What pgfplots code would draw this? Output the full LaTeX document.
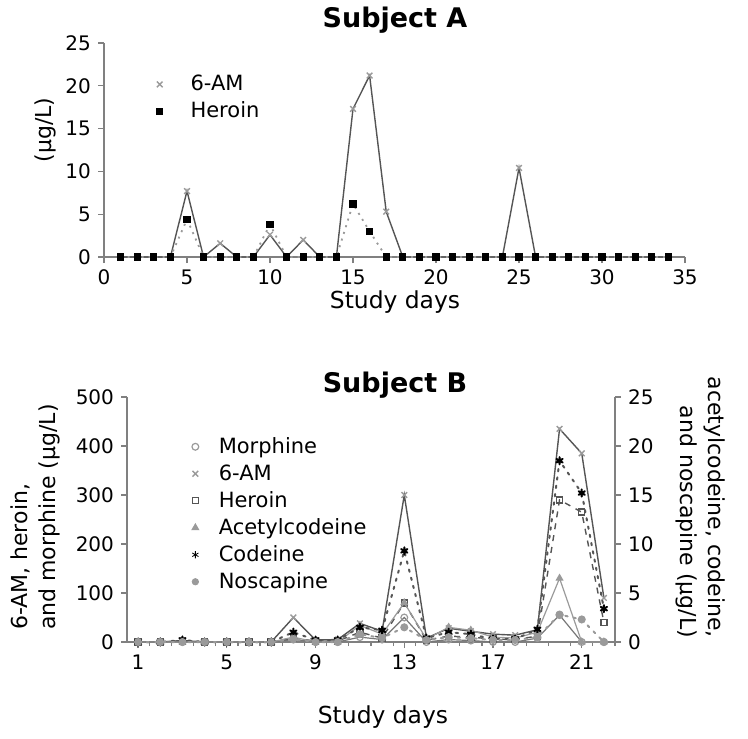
\documentclass[border=0pt]{standalone}
\usepackage{fontspec}
\setmainfont{DejaVu Sans}
\usepackage{pgfplots}
\pgfplotsset{compat=1.18}
\definecolor{axgray}{HTML}{808080}
\definecolor{ln}{HTML}{555555}
\definecolor{mk}{HTML}{9A9A9A}
\pgfplotsset{
  mystyle/.style={
    scale only axis, clip=false,
    axis line style={axgray, line width=0.8pt, -},
    tick style={axgray, line width=0.6pt},
    tick align=outside, major tick length=3pt, minor tick length=2pt,
    tick label style={font=\fontsize{10}{12}\selectfont},
    /pgf/number format/assume math mode=true,
    legend style={draw=none, fill=none, font=\fontsize{10.5}{13}\selectfont,
      cells={anchor=west, text height=8pt, text depth=2.5pt, inner ysep=1.4pt},
      /tikz/every odd column/.append style={column sep=8pt}},
    legend image code/.code={\draw[##1,solid] plot[only marks] coordinates {(0.1cm,0cm)};},
  }
}
\begin{document}
\begin{tikzpicture}
\useasboundingbox (0,0) rectangle (374pt,-369pt);
% ---------------- Subject A ----------------
\begin{axis}[mystyle, at={(52pt,-128.5pt)}, anchor=south west,
  width=290.5pt, height=107pt,
  xmin=0, xmax=35, ymin=0, ymax=25,
  axis x line*=bottom, axis y line*=left,
  xtick={0,5,...,35}, ytick={0,5,...,25},
  legend style={at={(0.08,0.89)}, anchor=north west,
    /tikz/every odd column/.append style={column sep=12pt}}]
\addplot[color=ln, line width=0.7pt, mark=x, mark size=2pt, mark options={solid, draw=mk}]
 coordinates {(1,0)(2,0)(3,0)(4,0)(5,7.7)(6,0)(7,1.6)(8,0)(9,0)(10,2.6)(11,0)(12,2.0)(13,0)(14,0)
 (15,17.3)(16,21.2)(17,5.3)(18,0)(19,0)(20,0)(21,0)(22,0)(23,0)(24,0)(25,10.4)(26,0)(27,0)(28,0)
 (29,0)(30,0)(31,0)(32,0)(33,0)(34,0)};
\addlegendentry{6-AM}
\addplot[color=mk, dash pattern=on 1pt off 2.5pt, line width=0.9pt, mark=square*, mark size=1.35pt, mark options={solid, fill=black, draw=black}]
 coordinates {(1,0)(2,0)(3,0)(4,0)(5,4.4)(6,0)(7,0)(8,0)(9,0)(10,3.8)(11,0)(12,0)(13,0)(14,0)
 (15,6.2)(16,3.0)(17,0)(18,0)(19,0)(20,0)(21,0)(22,0)(23,0)(24,0)(25,0)(26,0)(27,0)(28,0)
 (29,0)(30,0)(31,0)(32,0)(33,0)(34,0)};
\addlegendentry{Heroin}
\end{axis}
\node[font=\fontsize{13.5}{16}\selectfont\bfseries] at (197.5pt,-10pt) {Subject A};
\node[font=\fontsize{11.7}{14}\selectfont] at (197.5pt,-151pt) {Study days};
\node[font=\fontsize{11}{13}\selectfont, rotate=90] at (22.5pt,-65pt) {(µg/L)};
% ---------------- Subject B ----------------
\begin{axis}[mystyle, at={(63.5pt,-321pt)}, anchor=south west,
  width=244pt, height=122.5pt,
  xmin=0.5, xmax=22.5, ymin=0, ymax=500,
  axis x line*=bottom, axis y line*=left,
  xtick={1,5,9,13,17,21}, minor xtick={1.5,2.5,...,22.5}, ytick={0,100,...,500},
  legend style={at={(0.12,0.87)}, anchor=north west}]
\addplot[color=ln!80, line width=0.6pt, mark=o, mark size=1.7pt, mark options={solid, draw=mk}]
 coordinates {(1,0)(2,0)(3,0)(4,0)(5,0)(6,0)(7,0)(8,5)(9,0)(10,0)(11,10)(12,5)(13,50)(14,0)(15,5)(16,3)(17,0)(18,0)(19,8)(20,55)(21,0)(22,0)};
\addlegendentry{Morphine}
\addplot[color=ln, line width=0.7pt, mark=x, mark size=2pt, mark options={solid, draw=mk}]
 coordinates {(1,0)(2,0)(3,3)(4,0)(5,0)(6,0)(7,0)(8,50)(9,4)(10,5)(11,38)(12,22)(13,300)(14,8)(15,28)(16,22)(17,16)(18,14)(19,25)(20,435)(21,385)(22,90)};
\addlegendentry{6-AM}
\addplot[color=ln, dashed, line width=0.7pt, mark=square, mark size=1.5pt, mark options={solid, draw=ln}]
 coordinates {(1,0)(2,0)(3,2)(4,0)(5,0)(6,0)(7,0)(8,8)(9,2)(10,2)(11,20)(12,8)(13,80)(14,4)(15,12)(16,10)(17,6)(18,5)(19,12)(20,290)(21,265)(22,40)};
\addlegendentry{Heroin}
\addlegendimage{color=mk, line width=0.6pt, mark=triangle*, mark size=1.8pt, mark options={solid, fill=mk, draw=mk}}
\addlegendentry{Acetylcodeine}
\addlegendimage{color=black, mark=asterisk, mark size=1.8pt, mark options={solid, black}}
\addlegendentry{Codeine}
\addlegendimage{color=mk, mark=*, mark size=1.6pt, mark options={solid, fill=mk, draw=mk}}
\addlegendentry{Noscapine}
\end{axis}
\begin{axis}[mystyle, at={(63.5pt,-321pt)}, anchor=south west,
  width=244pt, height=122.5pt,
  xmin=0.5, xmax=22.5, ymin=0, ymax=25,
  axis x line=none, axis y line*=right,
  ytick={0,5,...,25}]
\addplot[color=mk, line width=0.6pt, mark=triangle*, mark size=1.8pt, mark options={solid, fill=mk, draw=mk}]
 coordinates {(1,0)(2,0)(3,0)(4,0)(5,0)(6,0)(7,0)(8,0.5)(9,0)(10,0)(11,1.7)(12,0.8)(13,4.0)(14,0.3)(15,1.5)(16,1.2)(17,0.5)(18,0.4)(19,1.0)(20,6.5)(21,0)(22,0)};
\addplot[color=ln, dash pattern=on 1.2pt off 3pt, line cap=round, line width=1pt, mark=asterisk, mark size=1.8pt, mark options={solid, black}]
 coordinates {(1,0)(2,0)(3,0.2)(4,0)(5,0)(6,0)(7,0)(8,1.0)(9,0.2)(10,0.2)(11,1.5)(12,1.2)(13,9.3)(14,0.4)(15,1.0)(16,0.8)(17,0.3)(18,0.3)(19,1.3)(20,18.5)(21,15.2)(22,3.4)};
\addplot[color=mk, dash pattern=on 1.2pt off 3pt, line cap=round, line width=1pt, mark=*, mark size=1.5pt, mark options={solid, fill=mk, draw=mk}]
 coordinates {(1,0)(2,0)(3,0)(4,0)(5,0)(6,0)(7,0)(8,0.3)(9,0)(10,0)(11,0.8)(12,0.4)(13,1.5)(14,0.2)(15,0.5)(16,0.4)(17,0.2)(18,0.2)(19,0.5)(20,2.8)(21,2.3)(22,0)};
\end{axis}
\node[font=\fontsize{13.5}{16}\selectfont\bfseries] at (197.5pt,-192.5pt) {Subject B};
\node[font=\fontsize{11.7}{14}\selectfont] at (191.5pt,-358.5pt) {Study days};
\node[font=\fontsize{11}{14}\selectfont, rotate=90, anchor=west, align=left] at (17.5pt,-318.5pt) {6-AM, heroin,\\and morphine (µg/L)};
\node[font=\fontsize{11}{14}\selectfont, rotate=-90, anchor=east, align=right] at (350.5pt,-322.5pt) {acetylcodeine, codeine,\\and noscapine (µg/L)};
\end{tikzpicture}
\end{document}
